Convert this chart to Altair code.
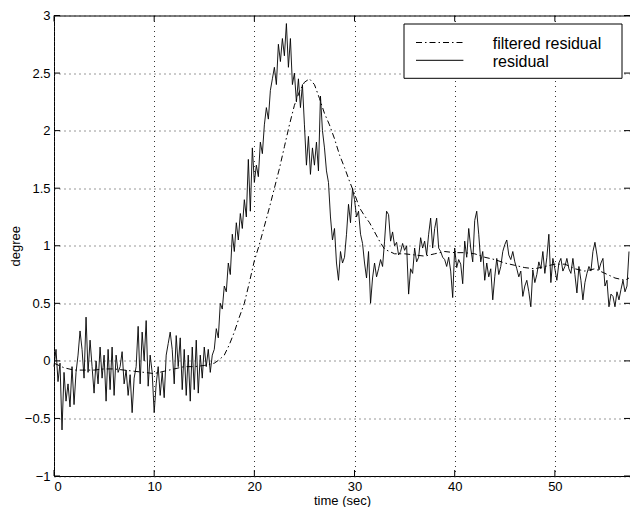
import altair as alt
import pandas as pd

# ---------------- data ----------------
RES_T0 = 0.0   # first sample time (s)
RES_DT = 0.2   # sampling step of the residual trace (s)
residual = [
    -0.05, 0.10, -0.18, -0.02, -0.60, -0.10, -0.35, -0.20, -0.40, -0.05,
    -0.38, -0.10, 0.05, 0.26, 0.10, -0.15, 0.38, -0.10, 0.18, -0.05,
    -0.28, 0.00, -0.20, 0.12, -0.15, 0.05, -0.35, 0.10, -0.25, 0.12,
    -0.30, 0.05, -0.10, -0.05, 0.08, -0.20, -0.08, -0.30, -0.12, -0.45,
    -0.15, -0.05, 0.30, -0.20, 0.25, 0.00, 0.35, -0.22, 0.05, -0.10,
    -0.45, -0.20, -0.05, -0.30, -0.10, -0.32, 0.05, 0.15, 0.25, 0.10,
    -0.20, 0.22, -0.05, 0.20, -0.25, 0.10, -0.30, 0.05, -0.35, 0.12,
    -0.25, 0.18, -0.28, 0.05, -0.15, 0.12, -0.05, 0.10, -0.10, 0.05,
    0.10, 0.28, 0.20, 0.50, 0.45, 0.65, 0.60, 0.85, 0.75, 1.10,
    0.95, 1.20, 1.05, 1.28, 1.15, 1.40, 1.25, 1.75, 1.30, 1.85,
    1.55, 1.70, 1.60, 1.90, 1.80, 2.05, 2.20, 2.10, 2.35, 2.45,
    2.55, 2.40, 2.75, 2.60, 2.80, 2.65, 2.93, 2.55, 2.80, 2.40,
    2.50, 2.25, 2.45, 2.20, 2.40, 2.05, 1.70, 1.95, 1.62, 1.85,
    1.70, 1.90, 1.65, 2.30, 2.00, 1.85, 1.65, 1.55, 1.25, 1.05,
    1.15, 0.85, 0.70, 0.95, 0.85, 0.90, 1.10, 1.36, 1.20, 1.50,
    1.40, 1.25, 1.30, 1.10, 1.02, 0.85, 0.72, 0.95, 0.50, 0.72,
    0.85, 0.73, 0.80, 0.88, 0.82, 1.04, 1.30, 1.27, 1.04, 1.12,
    1.00, 1.03, 0.92, 0.95, 1.02, 0.96, 1.00, 0.58, 0.80, 0.76,
    0.98, 0.86, 0.90, 1.07, 0.98, 1.04, 0.92, 1.10, 1.24, 0.98,
    1.15, 1.24, 0.98, 0.95, 0.90, 0.88, 0.82, 0.90, 0.78, 0.55,
    0.98, 0.81, 0.88, 0.84, 0.67, 1.04, 0.90, 1.15, 0.98, 0.86,
    1.22, 1.30, 1.10, 0.86, 0.95, 0.70, 0.85, 0.73, 0.80, 0.53,
    0.73, 0.89, 0.75, 0.82, 0.95, 1.01, 1.05, 0.92, 0.88, 0.95,
    0.86, 0.80, 0.73, 0.78, 0.56, 0.65, 0.70, 0.60, 0.47, 0.79,
    0.68, 0.75, 0.86, 0.80, 0.95, 0.76, 0.90, 1.10, 0.68, 0.89,
    0.80, 0.70, 0.85, 0.89, 0.78, 0.82, 0.89, 0.80, 0.76, 0.89,
    0.75, 0.59, 0.82, 0.70, 0.53, 0.68, 0.76, 0.82, 0.78, 0.95,
    1.03, 0.92, 0.79, 0.85, 0.89, 0.65, 0.70, 0.47, 0.58, 0.56,
    0.47, 0.60, 0.53, 0.62, 0.70, 0.60, 0.65, 0.95,
]

filt_t = [0, 1, 2, 3, 4, 5, 6, 7, 8, 9, 10, 11, 12, 13, 14, 15, 16, 16.5,
          17, 17.5, 18, 18.5, 19, 19.5, 20, 20.5, 21, 21.5, 22, 22.5, 23,
          23.5, 24, 24.5, 25, 25.5, 26, 26.5, 27, 27.5, 28, 28.5, 29, 29.5,
          30, 30.5, 31, 31.5, 32, 32.5, 33, 34, 35, 36, 37, 38, 39, 40, 41,
          42, 43, 44, 45, 46, 47, 48, 49, 50, 51, 52, 53, 54, 55, 56, 57, 57.4]
filt_v = [-0.02, -0.06, -0.08, -0.08, -0.08, -0.07, -0.07, -0.08, -0.09,
          -0.10, -0.11, -0.09, -0.07, -0.05, -0.05, -0.04, -0.02, 0.01,
          0.05, 0.14, 0.25, 0.38, 0.50, 0.68, 0.87, 1.01, 1.17, 1.33, 1.50,
          1.67, 1.86, 2.05, 2.22, 2.34, 2.42, 2.45, 2.40, 2.28, 2.15, 2.05,
          1.93, 1.79, 1.68, 1.56, 1.45, 1.33, 1.26, 1.20, 1.12, 1.04, 0.97,
          0.93, 0.93, 0.92, 0.91, 0.93, 0.95, 0.94, 0.94, 0.93, 0.90, 0.88,
          0.85, 0.83, 0.81, 0.80, 0.82, 0.84, 0.84, 0.80, 0.78, 0.80, 0.76,
          0.72, 0.70, 0.72]

x_ticks = [0, 10, 20, 30, 40, 50]
y_ticks = [-1, -0.5, 0, 0.5, 1, 1.5, 2, 2.5, 3]
legend_labels = ["filtered residual", "residual"]
x_title = "time (sec)"
y_title = "degree"

# ---------------- layout ----------------
PAD_L, PAD_T, PAD_R, PAD_B = 46, 7.5, 0, 31
W = 576
H = 460.5
FONT = "Liberation Sans"
DASHDOT = [6, 3, 1.5, 3]

# legend geometry (relative to the plot's top-left corner)
LB_R = W - 8
LB_L = LB_R - 218
LB_T, LB_B = 8.5, 62.8
LS_X1, LS_X2 = LB_L + 12, LB_L + 59.4
LT_X = LB_L + 88.7
ROW1, ROW2 = 33.8, 51.6

res_df = pd.DataFrame({
    "t": [round(RES_T0 + i * RES_DT, 2) for i in range(len(residual))],
    "v": residual,
})
filt_df = pd.DataFrame({"t": filt_t, "v": filt_v})
xt_df = pd.DataFrame({"t": x_ticks})
yt_df = pd.DataFrame({"v": y_ticks})
one_df = pd.DataFrame({"k": [0]})

xs = alt.Scale(domain=[0, 57.5], nice=False, zero=False)
ys = alt.Scale(domain=[-1, 3], nice=False, zero=False)

x_axis = alt.Axis(values=x_ticks, format="d", title=x_title, grid=True,
                  ticks=False, domain=False, labelPadding=4,
                  titleY=28, titleBaseline="alphabetic")
y_axis = alt.Axis(values=y_ticks, format=".2~f", title=y_title, grid=True,
                  ticks=False, domain=False, labelPadding=4,
                  titleX=-38.5, titleY=H / 2, titleAngle=270,
                  titleBaseline="middle", titleAlign="center")

X = alt.X("t:Q", scale=xs, axis=x_axis)
Y = alt.Y("v:Q", scale=ys, axis=y_axis)

res_line = alt.Chart(res_df).mark_line(color="black", strokeWidth=0.9).encode(x=X, y=Y)
filt_line = alt.Chart(filt_df).mark_line(
    color="black", strokeWidth=1, strokeDash=DASHDOT).encode(x=X, y=Y)

tick_bottom = alt.Chart(xt_df).mark_rule(color="black").encode(
    x=X, y=alt.value(H), y2=alt.value(H - 6))
tick_top = alt.Chart(xt_df).mark_rule(color="black").encode(
    x=X, y=alt.value(0), y2=alt.value(6))
tick_left = alt.Chart(yt_df).mark_rule(color="black").encode(
    y=Y, x=alt.value(0), x2=alt.value(6))
tick_right = alt.Chart(yt_df).mark_rule(color="black").encode(
    y=Y, x=alt.value(W), x2=alt.value(W - 6))

# legend box (drawn by hand, MATLAB style)
leg_box = alt.Chart(one_df).mark_rect(fill="white", stroke="black", strokeWidth=1).encode(
    x=alt.value(LB_L), x2=alt.value(LB_R), y=alt.value(LB_T), y2=alt.value(LB_B))
leg_l1 = alt.Chart(one_df).mark_rule(color="black", strokeWidth=1, strokeDash=DASHDOT).encode(
    x=alt.value(LS_X1), x2=alt.value(LS_X2), y=alt.value(ROW1 - 6.8))
leg_l2 = alt.Chart(one_df).mark_rule(color="black", strokeWidth=1).encode(
    x=alt.value(LS_X1), x2=alt.value(LS_X2), y=alt.value(ROW2 - 6.8))
leg_t1 = alt.Chart(one_df).mark_text(align="left", baseline="alphabetic", fontSize=16,
                                     font=FONT, color="black").encode(
    x=alt.value(LT_X), y=alt.value(ROW1), text=alt.value(legend_labels[0]))
leg_t2 = alt.Chart(one_df).mark_text(align="left", baseline="alphabetic", fontSize=16,
                                     font=FONT, color="black").encode(
    x=alt.value(LT_X), y=alt.value(ROW2), text=alt.value(legend_labels[1]))

chart = alt.layer(
    res_line, filt_line, tick_bottom, tick_top, tick_left, tick_right,
    leg_box, leg_l1, leg_l2, leg_t1, leg_t2,
).properties(
    width=W, height=H,
    padding={"left": PAD_L, "top": PAD_T, "right": PAD_R, "bottom": PAD_B},
    autosize=alt.AutoSizeParams(type="none"),
    background="white",
).configure_view(
    stroke="black", strokeWidth=1
).configure_axis(
    labelFont=FONT, labelFontSize=13, labelColor="black",
    titleFont=FONT, titleFontSize=13, titleFontWeight="normal", titleColor="black",
    gridColor="#333", gridDash=[1, 4], gridWidth=1, gridOpacity=1,
)

chart.save("out.html", embed_options={"renderer": "svg", "actions": False})
